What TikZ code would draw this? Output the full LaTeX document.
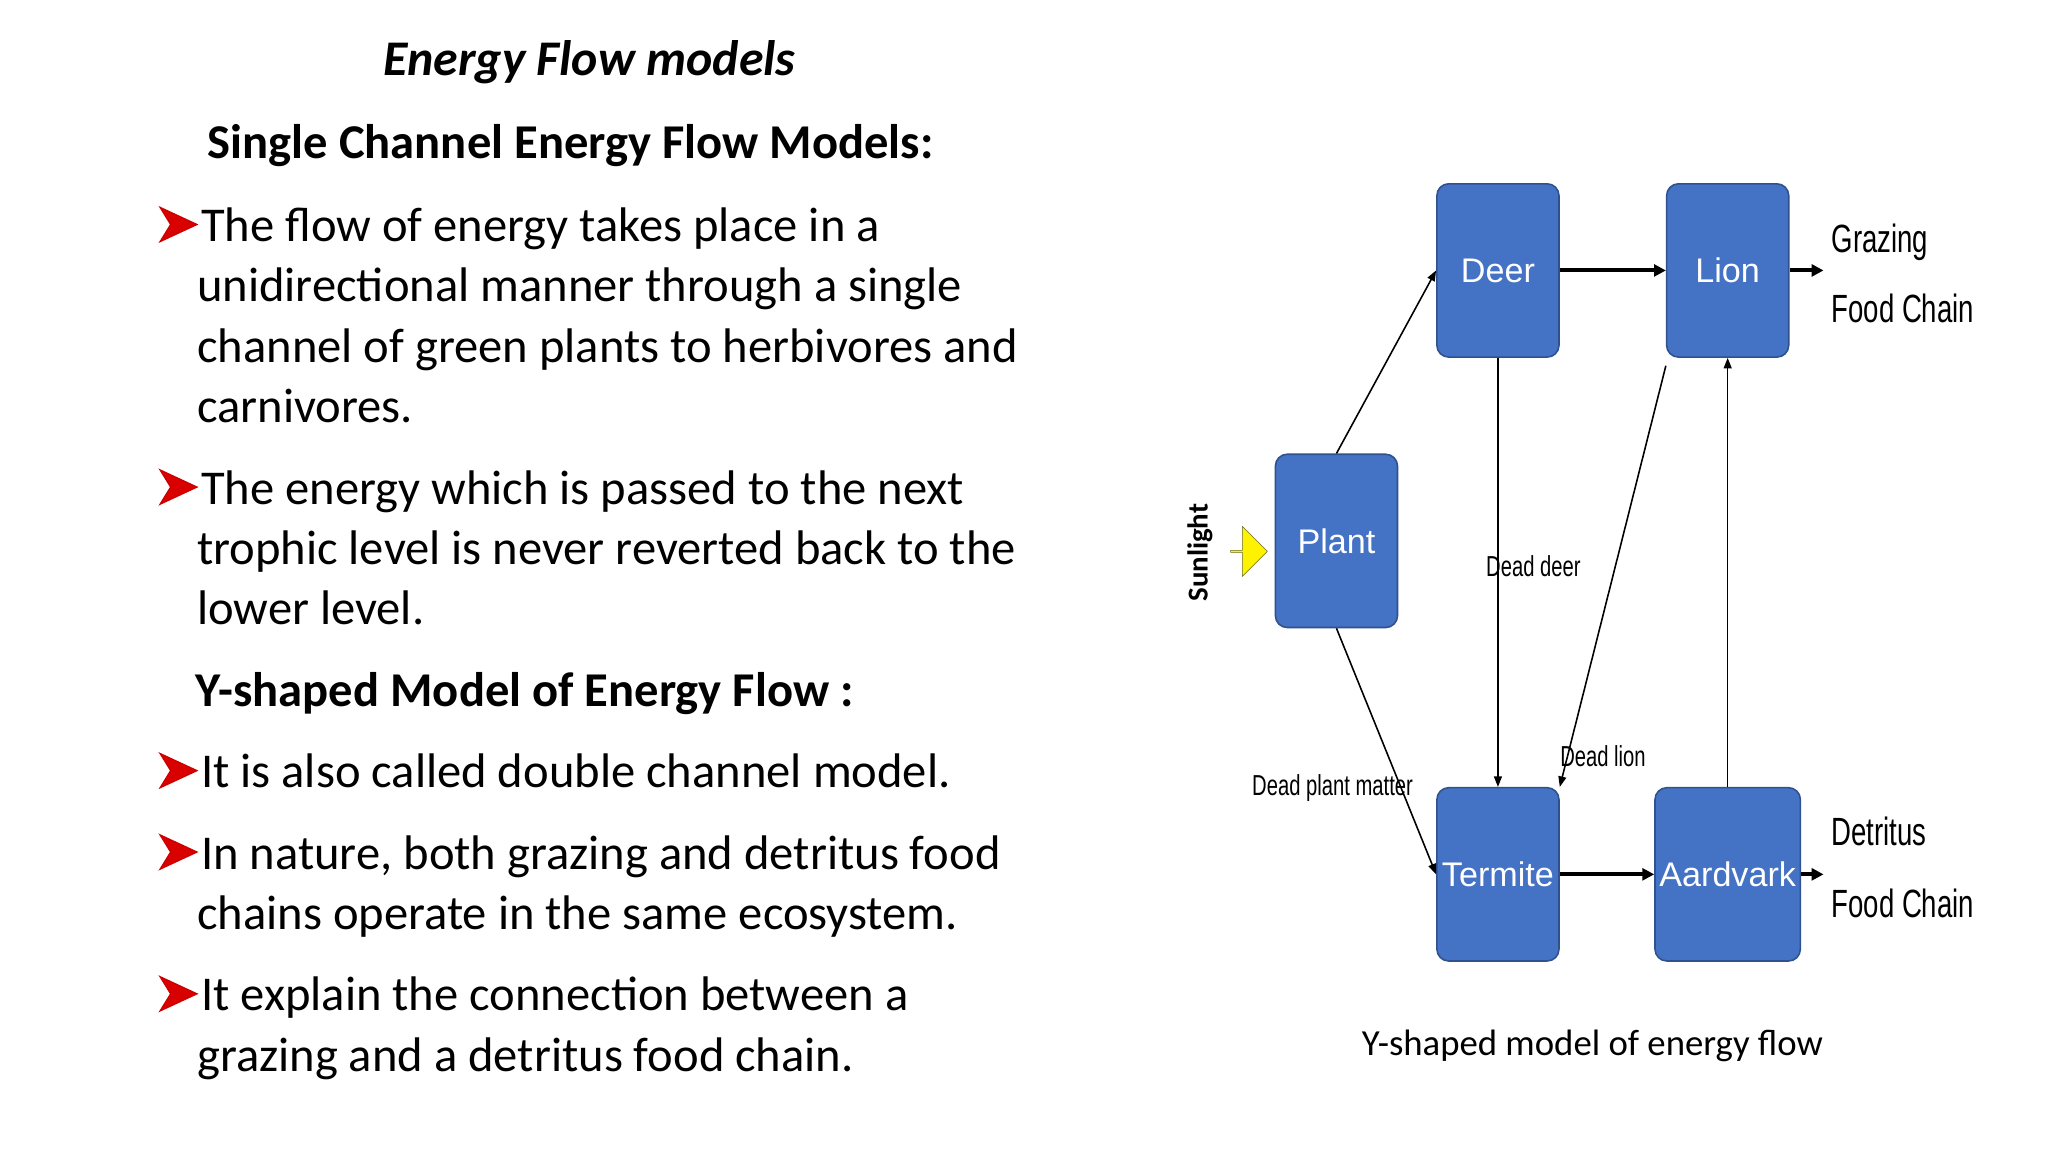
\documentclass[tikz,border=0pt]{standalone}
\usepackage{fontspec}
\setmainfont{Carlito}
\newfontfamily\narrowf{Liberation Sans}
\usetikzlibrary{arrows.meta,shapes.arrows}
\definecolor{boxblue}{HTML}{4472C4}
\definecolor{boxedge}{HTML}{2F528F}
\begin{document}
\begin{tikzpicture}[x=1pt,y=-1pt,
  body/.style={anchor=base west,inner sep=0pt,font=\fontsize{37}{44}\selectfont},
  head/.style={anchor=base west,inner sep=0pt,font=\fontsize{37}{44}\selectfont\bfseries},
  box/.style={draw=boxedge,line width=1.2pt,fill=boxblue,rounded corners=9pt,minimum width=93pt,minimum height=132pt,text=white,font=\narrowf\fontsize{26}{30}\selectfont},
  thick arr/.style={line width=3pt,-{Triangle[length=9pt,width=9pt]}},
  thin arr/.style={line width=1.2pt,-{Triangle[length=8pt,width=6pt]}},
  lab/.style={font=\narrowf\fontsize{22}{26}\selectfont,inner sep=0pt},
  side/.style={anchor=base west,font=\narrowf\fontsize{30}{34}\selectfont,inner sep=0pt},
  bul/.pic={\draw[red!80!black,fill=red!85!black,line width=1pt] (0,-13)--(28,0)--(0,13)--(8,0)--cycle;}]
\useasboundingbox[fill=white] (0,0) rectangle (1560,878);
% left text
\node[inner sep=0pt,font=\fontsize{38}{44}\selectfont\bfseries\itshape] (title) at (449,47) {Energy Flow models};
\node[head] (h1) at (158,121) {Single Channel Energy Flow Models:};
\pic at (122,171) {bul};
\node[body] (a1) at (153,184) {The flow of energy takes place in a};
\node[body] (a2) at (150,230) {unidirectional manner through a single};
\node[body] (a3) at (150,276) {channel of green plants to herbivores and};
\node[body] (a4) at (150,322) {carnivores.};
\pic at (122,371) {bul};
\node[body] (b1) at (153,384) {The energy which is passed to the next};
\node[body] (b2) at (150,430) {trophic level is never reverted back to the};
\node[body] (b3) at (150,476) {lower level.};
\node[head] (h2) at (149,538) {Y-shaped Model of Energy Flow :};
\pic at (122,587) {bul};
\node[body] (c1) at (153,600) {It is also called double channel model.};
\pic at (122,649) {bul};
\node[body] (d1) at (153,662) {In nature, both grazing and detritus food};
\node[body] (d2) at (150,708) {chains operate in the same ecosystem.};
\pic at (122,757) {bul};
\node[body] (e1) at (153,770) {It explain the connection between a};
\node[body] (e2) at (150,816) {grazing and a detritus food chain.};
% diagram
\node[box] (Plant) at (1018,412) {Plant};
\node[box] (Deer) at (1141,206) {Deer};
\node[box] (Lion) at (1316,206) {Lion};
\node[box] (Termite) at (1141,666) {Termite};
\node[box] (Aardvark) at (1316,666) {Aardvark};
\coordinate (g) at (1389,206);
\coordinate (d) at (1389,666);
\draw[thin arr] (Plant.north) -- (Deer.west);
\draw[thin arr] (Plant.south) -- (Termite.west);
\draw[thick arr] (Deer) -- (Lion);
\draw[thick arr] (Lion) -- (g);
\draw[thick arr] (Termite) -- (Aardvark);
\draw[thick arr] (Aardvark) -- (d);
\draw[thin arr] (Deer.south) -- (Termite.north);
\draw[thin arr] ([yshift=-6pt]Lion.south west) -- (Termite.north east);
\draw[thin arr] (Aardvark.north) -- (Lion.south);
\node[lab,xscale=0.7] (dd) at (1168,431) {Dead deer};
\node[lab,xscale=0.7] (dl) at (1221,576) {Dead lion};
\node[lab,xscale=0.7] (dp) at (1015,600) {Dead plant matter};
\node[side,xscale=0.7] (gz) at (1395,192) {Grazing};
\node[side,xscale=0.7] (gf) at (1395,246) {Food Chain};
\node[side,xscale=0.7] (dt) at (1395,644) {Detritus};
\node[side,xscale=0.7] (df) at (1395,699) {Food Chain};
\node[single arrow,draw=olive!70!black,fill=yellow,minimum height=28pt,minimum width=38pt,single arrow head extend=5pt,inner sep=0pt] (sun) at (951,420) {};
\node[rotate=90,font=\fontsize{22}{26}\selectfont\bfseries,inner sep=0pt] (sl) at (914,421) {Sunlight};
\node[inner sep=0pt,font=\fontsize{28}{32}\selectfont] (cap) at (1213,797) {Y-shaped model of energy flow};
\end{tikzpicture}
\end{document}
